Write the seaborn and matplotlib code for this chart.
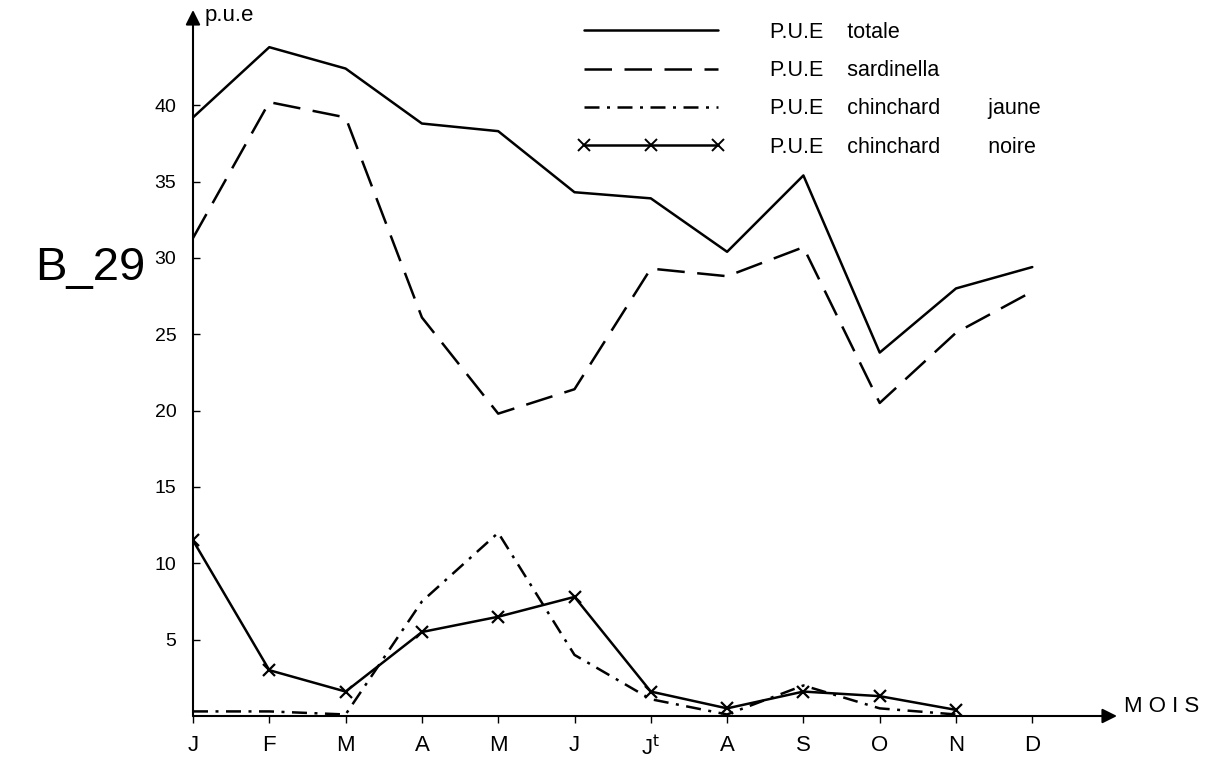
import numpy as np
import pandas as pd
import seaborn as sns
import matplotlib
matplotlib.use("Agg")
import matplotlib.pyplot as plt
from matplotlib.lines import Line2D

mois = ["J", "F", "M", "A", "M", "J", "J$^\\mathrm{t}$", "A", "S", "O", "N", "D"]
totale = [39.2, 43.8, 42.4, 38.8, 38.3, 34.3, 33.9, 30.4, 35.4, 23.8, 28.0, 29.4]
sardinella = [31.3, 40.2, 39.2, 26.1, 19.8, 21.4, 29.3, 28.8, 30.7, 20.5, 25.1, 27.8]
jaune = [0.3, 0.3, 0.1, 7.5, 12.0, 4.0, 1.1, 0.1, 2.0, 0.5, 0.1, np.nan]
noire = [11.5, 3.0, 1.6, 5.5, 6.5, 7.8, 1.6, 0.5, 1.6, 1.3, 0.4, np.nan]
yticks = [5, 10, 15, 20, 25, 30, 35, 40]

df = pd.DataFrame({
    "x": np.arange(len(mois)),
    "totale": totale,
    "sardinella": sardinella,
    "jaune": jaune,
    "noire": noire,
})

sns.set_style("white")
plt.rcParams["font.family"] = ["Liberation Sans", "DejaVu Sans"]
plt.rcParams["text.color"] = "black"
plt.rcParams["xtick.color"] = "black"
plt.rcParams["ytick.color"] = "black"
plt.rcParams["mathtext.default"] = "regular"

fig = plt.figure(figsize=(12.14, 7.59), dpi=100)
ax = fig.add_axes([193 / 1214, 1 - 716 / 759, (1117 - 193) / 1214, (716 - 10) / 759])

lw = 1.8
sns.lineplot(data=df, x="x", y="totale", ax=ax, color="black", lw=lw)
sns.lineplot(data=df, x="x", y="sardinella", ax=ax, color="black", lw=lw)
ax.lines[-1].set_dashes((11, 5))
sns.lineplot(data=df, x="x", y="jaune", ax=ax, color="black", lw=lw)
ax.lines[-1].set_dashes((6, 3, 1.2, 3))
sns.lineplot(data=df, x="x", y="noire", ax=ax, color="black", lw=lw,
             marker="x", markersize=8, markeredgewidth=1.6, markeredgecolor="black")

ax.set_xlim(0, (1117 - 193) / 76.3)
ax.set_ylim(0, (716 - 10) / 15.27)
for s in ax.spines.values():
    s.set_visible(False)

ax.annotate("", xy=(1, 0), xytext=(0, 0), xycoords="axes fraction",
            arrowprops=dict(arrowstyle="-|>", color="black", lw=1.5,
                            mutation_scale=22, shrinkA=0, shrinkB=0))
ax.annotate("", xy=(0, 1), xytext=(0, 0), xycoords="axes fraction",
            arrowprops=dict(arrowstyle="-|>", color="black", lw=1.5,
                            mutation_scale=22, shrinkA=0, shrinkB=0))

ax.set_xticks(df["x"])
ax.set_xticklabels(mois, fontsize=16)
ax.set_yticks(yticks)
ax.set_yticklabels([str(v) for v in yticks], fontsize=14)
ax.tick_params(axis="y", direction="in", length=5, width=1, pad=12, left=True)
ax.tick_params(axis="x", direction="out", length=5, width=1, pad=9, bottom=True)
ax.set_xlabel("")
ax.set_ylabel("")

fig.text(205 / 1214, 1 - 16 / 759, "p.u.e", fontsize=16, va="center", ha="left")
fig.text(1124 / 1214, 1 - 707 / 759, "M O I S", fontsize=16, va="center", ha="left")
fig.text(35 / 1214, 1 - 268 / 759, "B_29", fontsize=34, va="center", ha="left")

handles = [
    Line2D([], [], color="black", lw=lw),
    Line2D([], [], color="black", lw=lw, dashes=(11, 5)),
    Line2D([], [], color="black", lw=lw, dashes=(6, 3, 1.2, 3)),
    Line2D([], [], color="black", lw=lw, marker="x", markersize=8, markeredgewidth=1.4),
]
labels = ["P.U.E    totale", "P.U.E    sardinella", "P.U.E    chinchard        jaune",
          "P.U.E    chinchard        noire"]
ax.legend(handles, labels, loc="upper left", bbox_to_anchor=(578 / 1214, 1 - 22 / 759),
          bbox_transform=fig.transFigure, frameon=False, fontsize=15.5, handlelength=6.8,
          handletextpad=2.1, labelspacing=0.8, borderpad=0, borderaxespad=0,
          numpoints=3)

fig.savefig("out.png", dpi=100)
